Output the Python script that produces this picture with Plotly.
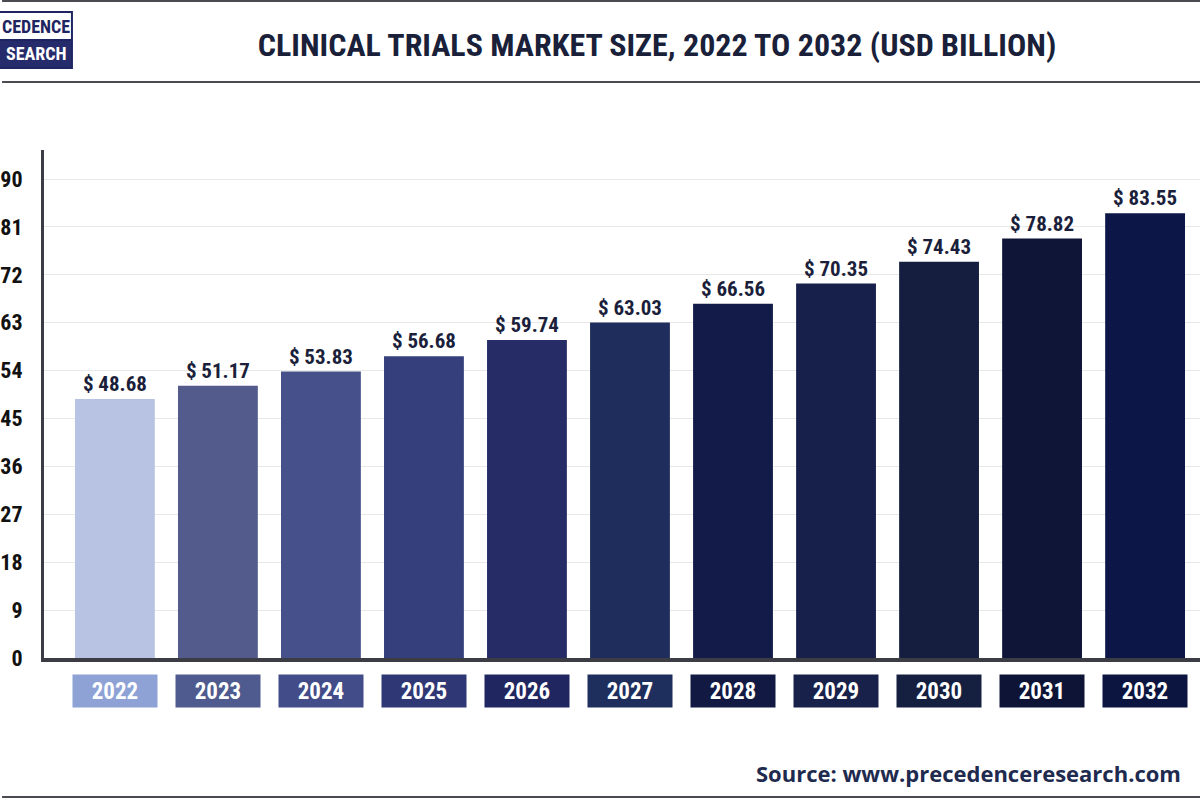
import plotly.graph_objects as go

years = ["2022", "2023", "2024", "2025", "2026", "2027", "2028", "2029", "2030", "2031", "2032"]
values = [48.68, 51.17, 53.83, 56.68, 59.74, 63.03, 66.56, 70.35, 74.43, 78.82, 83.55]
bar_colors = ["#b8c3e3", "#525b8c", "#46508a", "#353f7c", "#262d66", "#1f2d5c",
              "#131c48", "#17204a", "#161e40", "#0f1537", "#0c1647"]
box_colors = ["#8ea2d6", "#4f5a8e", "#424c88", "#2f3875", "#1f2660", "#1e2f5e",
              "#121a44", "#17214a", "#152040", "#0e1436", "#0c1540"]
y_ticks = [0, 9, 18, 27, 36, 45, 54, 63, 72, 81, 90]
title_text = "CLINICAL TRIALS MARKET SIZE, 2022 TO 2032 (USD BILLION)"
source_text = "Source: www.precedenceresearch.com"
logo_top = "CEDENCE"
logo_bottom = "SEARCH"

COND = "Roboto Condensed, Liberation Sans Narrow, DejaVu Sans Condensed, Arial Narrow, sans-serif"
W, H = 1200, 800
ML, MR, MT, MB = 42, 0, 150, 142
PH = H - MT - MB
PW = W - ML - MR

def py(p):
    return (H - MB - p) / PH

def px(p):
    return (p - ML) / PW

fig = go.Figure()
fig.add_trace(go.Bar(
    x=years, y=values,
    marker=dict(color=bar_colors, line=dict(width=0)),
    text=["$ %.2f" % v for v in values],
    textposition="outside",
    textfont=dict(family=COND, size=21, color="#1b1f3b", weight="bold"),
    cliponaxis=False,
    hoverinfo="skip",
))

annotations = []
for i, (yr, c) in enumerate(zip(years, box_colors)):
    annotations.append(dict(
        x=i, xref="x", y=py(691), yref="paper",
        text="<b>%s</b>" % yr, showarrow=False,
        width=84, height=32, bgcolor=c, borderpad=0,
        font=dict(family=COND, size=23, color="white"),
        xanchor="center", yanchor="middle",
    ))

annotations.append(dict(
    x=px(753), xref="paper", y=py(773), yref="paper",
    text="<b>%s</b>" % source_text, showarrow=False,
    xanchor="left", yanchor="middle",
    font=dict(family="Open Sans, Lato, sans-serif", size=22, color="#1f2a4f"),
))
# logo text
annotations.append(dict(
    x=px(34), xref="paper", y=py(26), yref="paper",
    text="<b>%s</b>" % logo_top, showarrow=False, xanchor="center", yanchor="middle",
    font=dict(family=COND, size=18, color="#1f2560"),
))
annotations.append(dict(
    x=px(34), xref="paper", y=py(54), yref="paper",
    text="<b>%s</b>" % logo_bottom, showarrow=False, xanchor="center", yanchor="middle",
    font=dict(family=COND, size=18, color="white"),
))

shapes = [
    dict(type="line", xref="paper", yref="paper", x0=px(0), x1=px(W), y0=py(1), y1=py(1),
         line=dict(color="#4a4a52", width=2)),
    dict(type="line", xref="paper", yref="paper", x0=px(0), x1=px(W), y0=py(82), y1=py(82),
         line=dict(color="#4a4a52", width=2)),
    dict(type="line", xref="paper", yref="paper", x0=px(0), x1=px(W), y0=py(797), y1=py(797),
         line=dict(color="#4a4a52", width=2)),
    dict(type="rect", xref="paper", yref="paper", x0=px(-5), x1=px(70), y0=py(40), y1=py(12),
         fillcolor="white", line=dict(color="#1f2560", width=2)),
    dict(type="rect", xref="paper", yref="paper", x0=px(-5), x1=px(70), y0=py(68), y1=py(40),
         fillcolor="#262b6b", line=dict(color="#1f2560", width=2)),
]

fig.update_layout(
    width=W, height=H,
    margin=dict(l=ML, r=MR, t=MT, b=MB),
    paper_bgcolor="white", plot_bgcolor="white",
    showlegend=False,
    bargap=0.225,
    title=dict(text="<b>%s</b>" % title_text, x=657 / W, xref="container", xanchor="center",
               y=1 - 45 / H, yref="container", yanchor="middle",
               font=dict(family=COND, size=32, color="#1a1f3a")),
    xaxis=dict(type="category", range=[-0.688, 10.533], showticklabels=False, ticks="",
               showgrid=False, showline=True, linecolor="#3c3c44", linewidth=4, zeroline=False),
    yaxis=dict(range=[0, 95.45], tickvals=y_ticks, showgrid=True, gridcolor="#e8e8e8", gridwidth=1,
               showline=True, linecolor="#3c3c44", linewidth=3, zeroline=False, ticks="",
               ticklabelstandoff=14,
               tickfont=dict(family=COND, size=22, color="#111111", weight="bold")),
    annotations=annotations,
    shapes=shapes,
)

fig.write_html("out.html", config={"displayModeBar": False},
               post_script="document.body.style.margin='0';document.body.style.overflow='hidden';")
